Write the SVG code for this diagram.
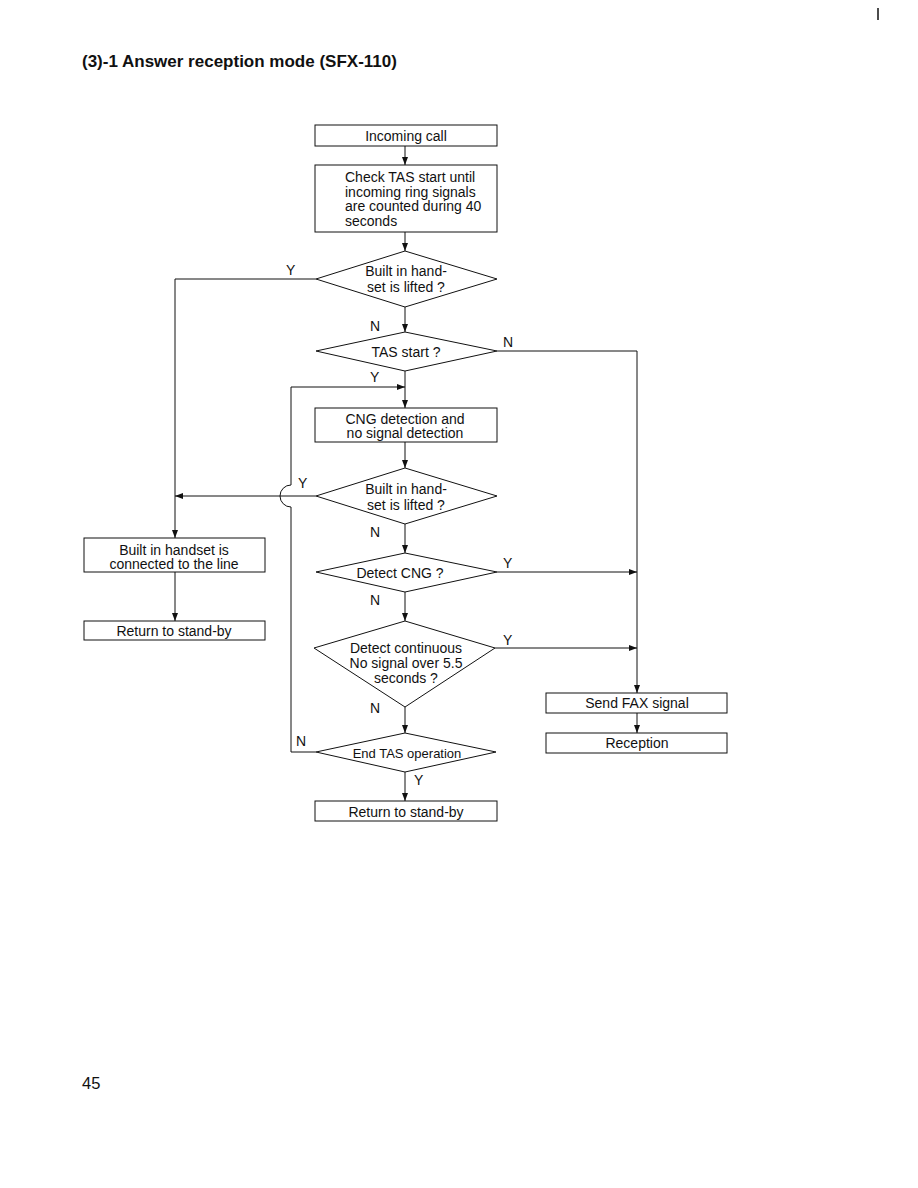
<svg xmlns="http://www.w3.org/2000/svg" width="918" height="1188" viewBox="0 0 918 1188">
<defs>
<marker id="ah" viewBox="0 0 8 6" refX="8" refY="3" markerWidth="8" markerHeight="6" markerUnits="userSpaceOnUse" orient="auto">
<path d="M0,0 L8,3 L0,6 z" fill="#111"/>
</marker>
</defs>
<style>
.box{fill:#fff;stroke:#111;stroke-width:1}
.dia{fill:#fff;stroke:#111;stroke-width:1}
.ln{fill:none;stroke:#111;stroke-width:1}
.ar{fill:none;stroke:#111;stroke-width:1;marker-end:url(#ah)}
.t{font-family:"Liberation Sans",Arial,sans-serif;font-size:14px;fill:#111}
.c{text-anchor:middle}
.lb{font-family:"Liberation Sans",Arial,sans-serif;font-size:14px;fill:#111}
.title{font-family:"Liberation Sans",Arial,sans-serif;font-size:17px;font-weight:bold;fill:#111}
</style>
<rect width="918" height="1188" fill="#fff"/>
<text class="title" x="82" y="67">(3)-1 Answer reception mode (SFX-110)</text>
<text x="82" y="1089" font-family="Liberation Sans, Arial, sans-serif" font-size="16.5" fill="#111">45</text>
<line x1="878" y1="8" x2="878" y2="20" stroke="#111" stroke-width="1.5"/>

<g id="connectors">
<line class="ar" x1="405" y1="146" x2="405" y2="165"/>
<line class="ar" x1="405" y1="232" x2="405" y2="251"/>
<line class="ar" x1="405" y1="307" x2="405" y2="332"/>
<polyline class="ar" points="316,279 175,279 175,538"/>
<line class="ar" x1="175" y1="572" x2="175" y2="621"/>
<line class="ar" x1="405" y1="371" x2="405" y2="408"/>
<polyline class="ar" points="497,351 637,351 637,693"/>
<line class="ar" x1="637" y1="713" x2="637" y2="733"/>
<line class="ar" x1="405" y1="442" x2="405" y2="468"/>
<line class="ar" x1="316" y1="496" x2="175" y2="496"/>
<line class="ar" x1="405" y1="524" x2="405" y2="553"/>
<line class="ar" x1="497" y1="572" x2="637" y2="572"/>
<line class="ar" x1="405" y1="592" x2="405" y2="621"/>
<line class="ar" x1="495" y1="648" x2="637" y2="648"/>
<line class="ar" x1="405" y1="707" x2="405" y2="733"/>
<line class="ar" x1="405" y1="772" x2="405" y2="801"/>
<path class="ar" d="M316,752 L291,752 L291,507 A11,11 0 0 1 291,485 L291,387 L405,387"/>
</g>

<g id="n-incoming">
<rect class="box" x="315" y="125" width="182" height="21"/>
<text class="t c" x="406" y="141">Incoming call</text>
</g>
<g id="n-check">
<rect class="box" x="315" y="165" width="182" height="67"/>
<text class="t" x="345" y="182">Check TAS start until</text>
<text class="t" x="345" y="197">incoming ring signals</text>
<text class="t" x="345" y="211">are counted during 40</text>
<text class="t" x="345" y="226">seconds</text>
</g>
<g id="n-lifted1">
<polygon class="dia" points="405,251 497,279 405,307 316,279"/>
<text class="t c" x="406" y="276">Built in hand-</text>
<text class="t c" x="406" y="292">set is lifted ?</text>
<text class="lb" x="286" y="275">Y</text>
<text class="lb" x="370" y="331">N</text>
</g>
<g id="n-tas">
<polygon class="dia" points="405,332 497,351 405,371 316,351"/>
<text class="t c" x="406" y="357">TAS start ?</text>
<text class="lb" x="503" y="347">N</text>
<text class="lb" x="370" y="382">Y</text>
</g>
<g id="n-cng-det">
<rect class="box" x="315" y="408" width="182" height="34"/>
<text class="t c" x="405" y="424">CNG detection and</text>
<text class="t c" x="405" y="438">no signal detection</text>
</g>
<g id="n-lifted2">
<polygon class="dia" points="405,468 497,496 405,524 316,496"/>
<text class="t c" x="406" y="494">Built in hand-</text>
<text class="t c" x="406" y="510">set is lifted ?</text>
<text class="lb" x="298" y="488">Y</text>
<text class="lb" x="370" y="537">N</text>
</g>
<g id="n-connected">
<rect class="box" x="84" y="538" width="181" height="34"/>
<text class="t c" x="174" y="555">Built in handset is</text>
<text class="t c" x="174" y="569">connected to the line</text>
</g>
<g id="n-standby-left">
<rect class="box" x="84" y="621" width="181" height="19"/>
<text class="t c" x="174" y="636">Return to stand-by</text>
</g>
<g id="n-detect-cng">
<polygon class="dia" points="405,553 497,572 405,592 316,572"/>
<text class="t c" x="400" y="578">Detect CNG ?</text>
<text class="lb" x="503" y="568">Y</text>
<text class="lb" x="370" y="605">N</text>
</g>
<g id="n-detect-cont">
<polygon class="dia" points="405,621 495,648 405,707 314,648"/>
<text class="t c" x="406" y="653">Detect continuous</text>
<text class="t c" x="406" y="668">No signal over 5.5</text>
<text class="t c" x="406" y="683">seconds ?</text>
<text class="lb" x="503" y="645">Y</text>
<text class="lb" x="370" y="713">N</text>
</g>
<g id="n-end-tas">
<polygon class="dia" points="405,733 496,752 405,772 316,752"/>
<text class="t c" x="407" y="758" style="font-size:13px">End TAS operation</text>
<text class="lb" x="296" y="746">N</text>
<text class="lb" x="414" y="785">Y</text>
</g>
<g id="n-standby">
<rect class="box" x="315" y="801" width="182" height="20"/>
<text class="t c" x="406" y="817">Return to stand-by</text>
</g>
<g id="n-sendfax">
<rect class="box" x="546" y="693" width="181" height="20"/>
<text class="t c" x="637" y="708">Send FAX signal</text>
</g>
<g id="n-reception">
<rect class="box" x="546" y="733" width="181" height="20"/>
<text class="t c" x="637" y="748">Reception</text>
</g>
</svg>
